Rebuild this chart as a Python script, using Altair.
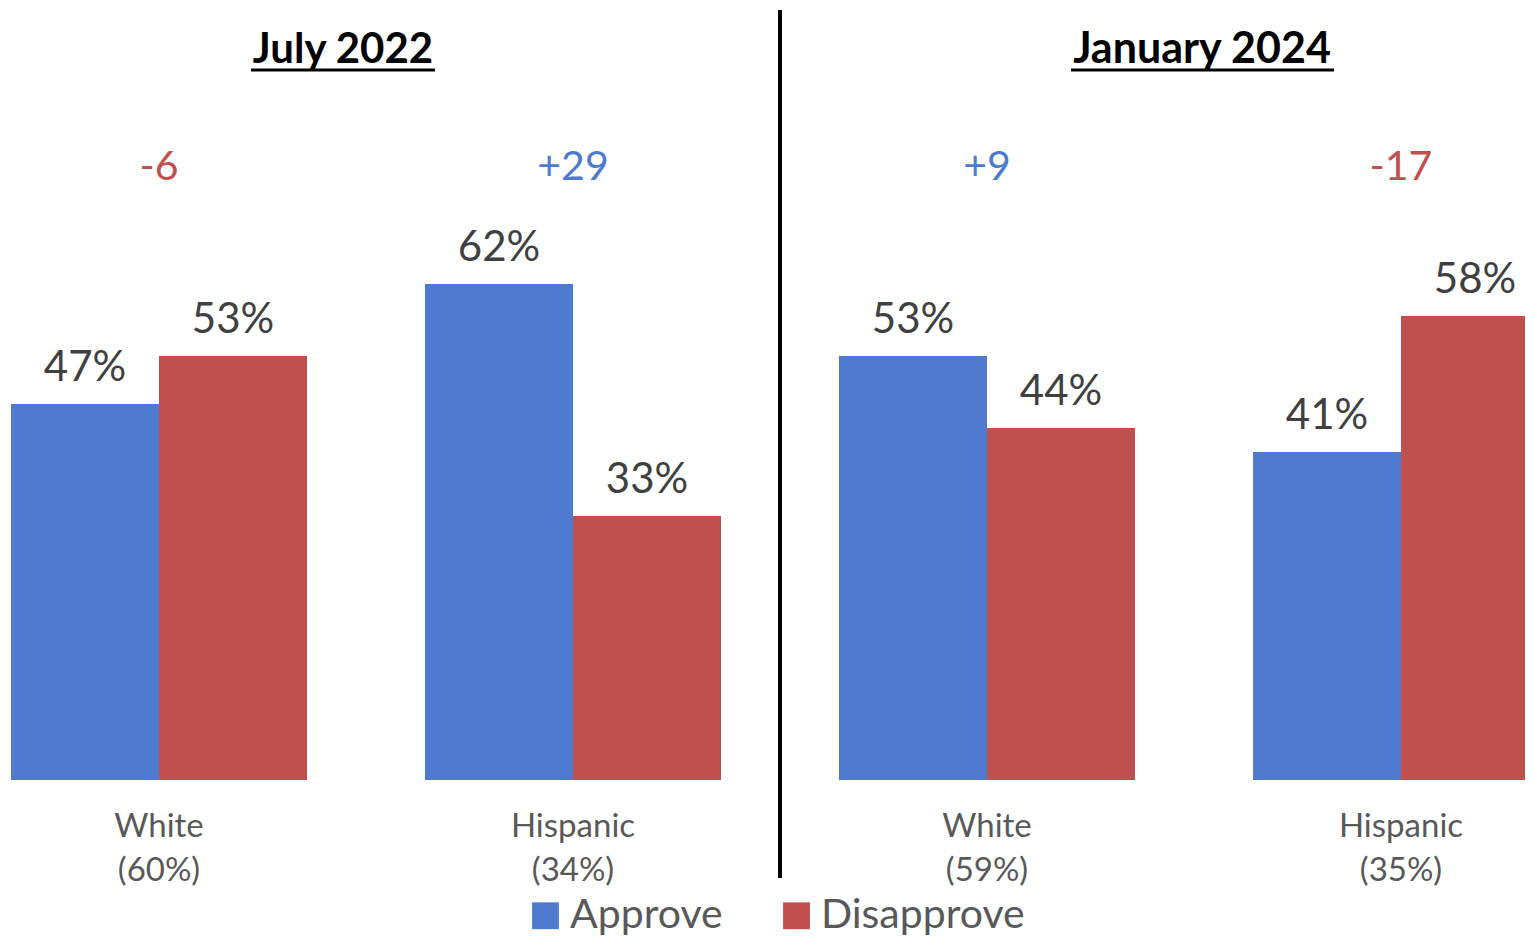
import altair as alt
import pandas as pd

periods = ["July 2022", "July 2022", "January 2024", "January 2024"]
groups = ["White", "Hispanic", "White", "Hispanic"]
shares = ["(60%)", "(34%)", "(59%)", "(35%)"]
approve = [47, 62, 53, 41]
disapprove = [53, 33, 44, 58]
series_names = ["Approve", "Disapprove"]
titles = ["July 2022", "January 2024"]

BLUE = "#4E7BD0"
RED = "#C0504D"
FONT = "Lato"

keys = [f"{p}|{g}" for p, g in zip(periods, groups)]

rows = []
for k, a, d in zip(keys, approve, disapprove):
    rows.append({"key": k, "series": "Approve", "value": a, "label": f"{a}%"})
    rows.append({"key": k, "series": "Disapprove", "value": d, "label": f"{d}%"})
df_long = pd.DataFrame(rows)

df_grp = pd.DataFrame({
    "key": keys,
    "cat": [f"{g}\n{s}" for g, s in zip(groups, shares)],
    "net": [a - d for a, d in zip(approve, disapprove)],
})
df_grp["netlabel"] = df_grp["net"].apply(lambda v: f"+{v}" if v > 0 else f"{v}")

W, H = 1517, 928

xs = alt.X("key:N", sort=keys,
           scale=alt.Scale(range=[3, 1541], paddingInner=0.285, paddingOuter=0),
           axis=None)
xo = alt.XOffset("series:N", sort=series_names,
                 scale=alt.Scale(paddingInner=0, paddingOuter=0))
ys = alt.Y("value:Q", scale=alt.Scale(domain=[0, 96.5], range=[772, 0], nice=False, zero=True),
           axis=None)

base = alt.Chart(df_long)

bars = base.mark_bar(clip=True).encode(
    x=xs, xOffset=xo, y=ys,
    color=alt.Color("series:N", sort=series_names,
                    scale=alt.Scale(domain=series_names, range=[BLUE, RED]),
                    legend=alt.Legend(orient="none", legendX=517, legendY=887,
                                      direction="horizontal", title=None,
                                      symbolType="square", symbolSize=720,
                                      symbolStrokeWidth=0, symbolOpacity=1,
                                      labelFontSize=41, labelFont=FONT,
                                      labelColor="#595959", labelOffset=4,
                                      labelLimit=500,
                                      columnPadding=53, padding=0)),
)

vals = base.mark_text(font=FONT, fontSize=42, color="#404040", baseline="alphabetic",
                      dy=-23, clip=True).encode(
    x=xs, xOffset=xo, y=ys, text="label:N"
)

gbase = alt.Chart(df_grp)
cats = gbase.mark_text(font=FONT, fontSize=33, color="#595959", baseline="alphabetic",
                       lineBreak="\n", lineHeight=44).encode(
    x=xs, y=alt.value(829), text="cat:N"
)
nets = gbase.mark_text(font=FONT, fontSize=41, baseline="alphabetic").encode(
    x=xs, y=alt.value(172), text="netlabel:N",
    color=alt.condition("datum.net < 0", alt.value(RED), alt.value(BLUE)),
)

t1 = alt.Chart(pd.DataFrame({"t": [titles[0]]})).mark_text(
    font=FONT, fontSize=42, fontWeight="bold", color="black", baseline="alphabetic"
).encode(x=alt.value(335), y=alt.value(55), text="t:N")
t2 = alt.Chart(pd.DataFrame({"t": [titles[1]]})).mark_text(
    font=FONT, fontSize=43, fontWeight="bold", color="black", baseline="alphabetic"
).encode(x=alt.value(1194), y=alt.value(55), text="t:N")
u1 = alt.Chart(pd.DataFrame({"t": [0]})).mark_rule(color="black", strokeWidth=3).encode(
    x=alt.value(243), x2=alt.value(427), y=alt.value(62))
u2 = alt.Chart(pd.DataFrame({"t": [0]})).mark_rule(color="black", strokeWidth=3).encode(
    x=alt.value(1063), x2=alt.value(1326), y=alt.value(62))
divider = alt.Chart(pd.DataFrame({"t": [0]})).mark_rule(color="black", strokeWidth=4).encode(
    x=alt.value(772), y=alt.value(2), y2=alt.value(870))

chart = alt.layer(bars, vals, cats, nets, t1, t2, u1, u2, divider).properties(
    width=W, height=H,
    autosize=alt.AutoSizeParams(type="none"),
    padding=0,
).configure_view(stroke=None)

chart.save("out.html", embed_options={"renderer": "svg", "actions": False})
